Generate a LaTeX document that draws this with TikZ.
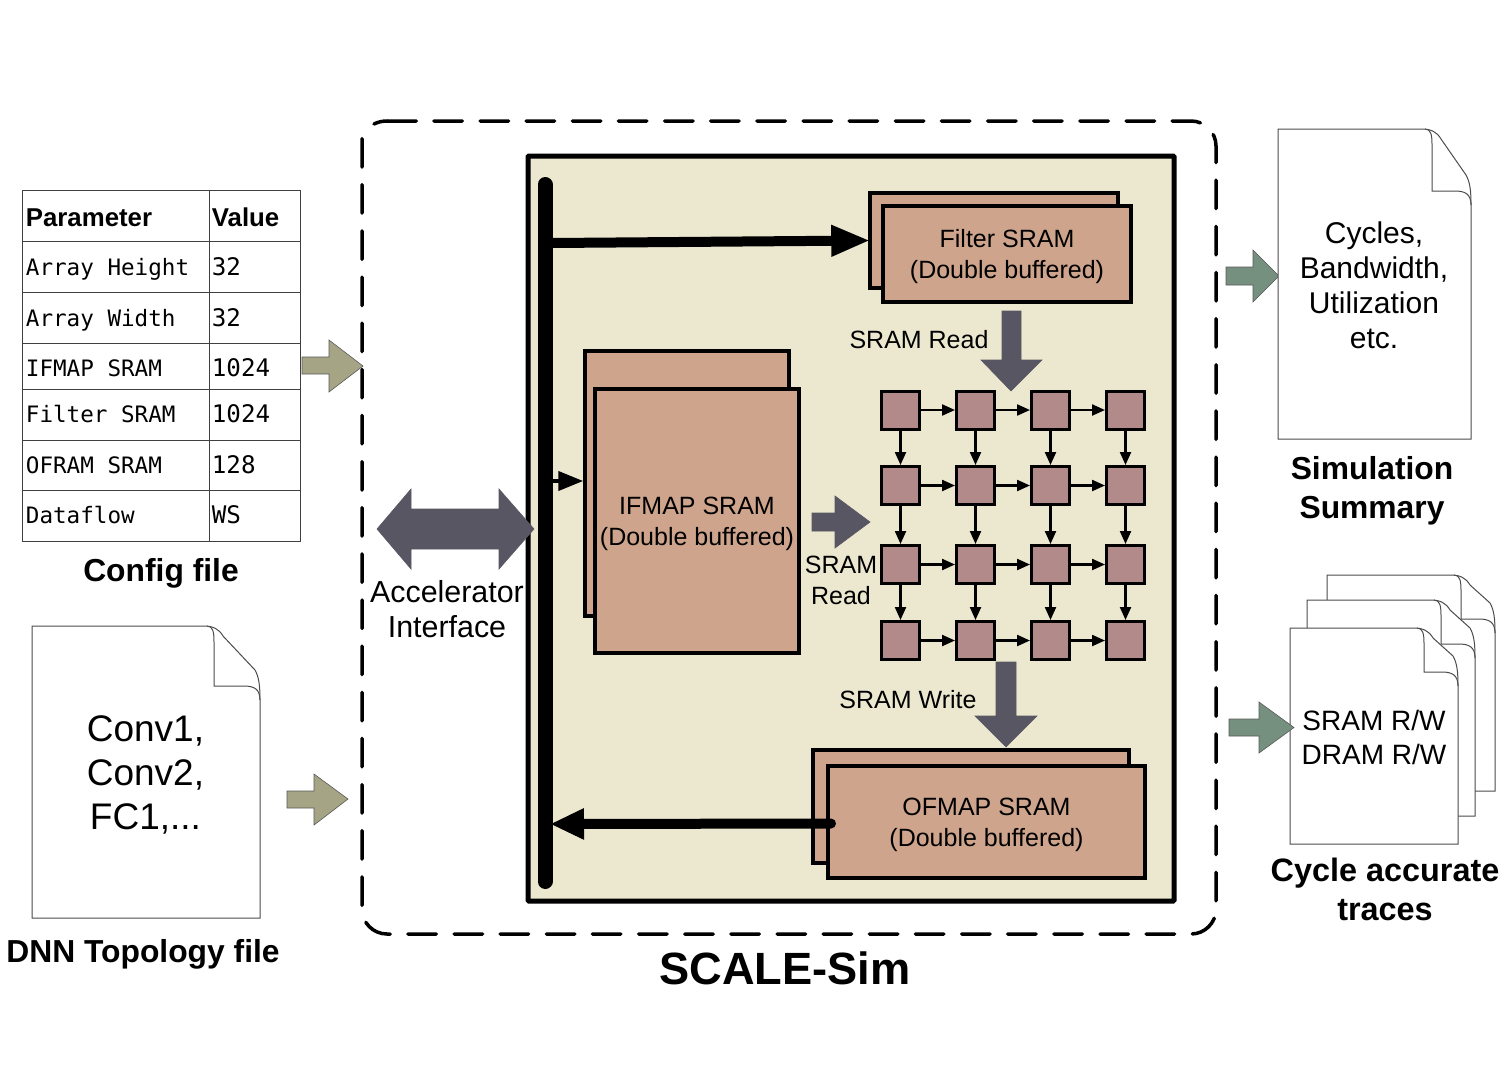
\documentclass[tikz,border=0pt]{standalone}
\usepackage{fontspec}
\setmainfont{Liberation Sans}
\setmonofont{DejaVu Sans Mono}
\usetikzlibrary{arrows.meta}
\definecolor{cBeige}{HTML}{ECE8CF}
\definecolor{cSram}{HTML}{CEA48C}
\definecolor{cPe}{HTML}{B28A8A}
\definecolor{cDark}{HTML}{585663}
\definecolor{cOlive}{HTML}{A5A485}
\definecolor{cGreen}{HTML}{76907F}
\tikzset{
  srambox/.style={draw=black,line width=1.75pt,fill=cSram,inner sep=0pt},
  penode/.style={draw=black,line width=1.5pt,fill=cPe,inner sep=0pt,minimum size=19pt},
  pelink/.style={line width=1.1pt,-{Triangle[length=6.5pt,width=5.5pt]}},
  buslink/.style={line width=5pt,line cap=round,shorten >=-1pt},
  blockdark/.style={draw=cDark,line width=0.3pt,fill=cDark},
  blockolive/.style={draw=black!65,line width=0.3pt,fill=cOlive},
  blockgreen/.style={draw=black!65,line width=0.3pt,fill=cGreen},
  docpage/.style={draw=black!70,line width=0.5pt,fill=white},
  tabline/.style={draw=black!75,line width=0.4pt},
  tabhead/.style={anchor=base west,inner sep=0pt,font=\fontsize{12.9}{15}\selectfont\bfseries},
  tabtext/.style={anchor=base west,inner sep=0pt,font=\fontsize{11.3}{14}\selectfont\ttfamily},
  tabvalue/.style={tabtext,font=\fontsize{12.1}{14}\selectfont\ttfamily},
  smalllabel/.style={inner sep=0pt,align=center,font=\fontsize{12.5}{15.5}\selectfont},
  midlabel/.style={inner sep=0pt,align=center,font=\fontsize{15.2}{17.5}\selectfont},
  boldlabel/.style={inner sep=0pt,align=center,font=\fontsize{15.9}{19.5}\selectfont\bfseries},
}
% left, top, right, bottom, fold width, fold height
\newcommand{\pagesheet}[6]{
  \draw[docpage] (#1,#2) -- ({#3-#5-10},#2)
    .. controls ({#3-#5-1},#2) and ({#3-#5+5},{#2+3}) .. ({#3-#5+9},{#2+10})
    -- ({#3-5},{#2+#6-16}) .. controls ({#3-1},{#2+#6-9}) and (#3,{#2+#6}) .. (#3,{#2+#6+14})
    -- (#3,#4) -- (#1,#4) -- cycle;
  \draw[docpage,fill=none] ({#3-#5-7},#2)
    .. controls ({#3-#5-1},#2) and ({#3-#5},{#2+6}) .. ({#3-#5},{#2+16})
    -- ({#3-#5},{#2+#6}) -- ({#3-16},{#2+#6})
    .. controls ({#3-6},{#2+#6}) and (#3,{#2+#6+3}) .. (#3,{#2+#6+14});
}

\begin{document}
\begin{tikzpicture}[x=0.5pt,y=-0.5pt]
\useasboundingbox (0,0) rectangle (1508,1066);

% config table
\draw[tabline] (22.5,190) rectangle (300,541);
\foreach \y in {241,292,343,389,440,490}
  \draw[tabline] (22.5,\y) -- (300,\y);
\draw[tabline] (209,190) -- (209,541);
\node[tabhead] (parhead) at (25.5,226) {Parameter};
\node[tabhead] (valhead) at (211.5,226) {Value};
\foreach \y/\p/\v [count=\r] in {275/Array Height/32,326/Array Width/32,376/IFMAP SRAM/1024,
    422/Filter SRAM/1024,473/OFRAM SRAM/128,523/Dataflow/WS} {
  \node[tabtext] (par\r) at (25.5,\y) {\p};
  \node[tabvalue] (val\r) at (211.5,\y) {\v};
}
\node[boldlabel] (configlabel) at (161,573) {Config file};

% topology file
\pagesheet{32}{626}{260}{918}{46}{60}
\node[inner sep=0pt,align=center,font=\fontsize{18.5}{22}\selectfont] (topotext) at (145.5,775)
  {Conv1,\\Conv2,\\FC1,...};
\node[boldlabel] (topolabel) at (143,954) {DNN Topology file};

% simulator boundary
\draw[line width=1.75pt,line cap=round] (374,124) .. controls (378,122) and (382,121) .. (387.75,121);
\draw[line width=1.75pt,line cap=round,dash pattern=on 14.25pt off 8.82pt,rounded corners=12.5pt]
  (387.75,121) -- (1216,121) -- (1216,934) -- (362,934) -- (362,138.5);
\node[inner sep=0pt,font=\fontsize{22.6}{26}\selectfont\bfseries] (simlabel) at (785,968) {SCALE-Sim};

% accelerator
\draw[line width=2.5pt,fill=cBeige,rounded corners=0.5pt] (528,156) rectangle (1174,901);
\draw[line width=7.5pt,line cap=round] (545,184.5) -- (545,881.5);
\coordinate (busfilter) at (552,243);
\coordinate (busifmap) at (552,481);
\coordinate (busofmap) at (552,824);
\coordinate (ofmapout) at (831,823.5);

% sram blocks
\node[srambox,minimum width=124pt,minimum height=47.5pt] (filterback) at (994,240.5) {};
\node[srambox,minimum width=124pt,minimum height=48pt] (filterfront) at (1007,254) {};
\node[smalllabel] (filtertext) at (1007,257) {Filter SRAM\\(Double buffered)};
\node[srambox,minimum width=102pt,minimum height=132.5pt] (ifmapback) at (687,483.5) {};
\node[srambox,minimum width=102pt,minimum height=132pt] (ifmapfront) at (697,521) {};
\node[smalllabel] (ifmaptext) at (697,524) {IFMAP SRAM\\(Double buffered)};
\node[srambox,minimum width=158pt,minimum height=56.5pt] (ofmapback) at (971,806.5) {};
\node[srambox,minimum width=158.5pt,minimum height=56pt] (ofmapfront) at (986.5,822) {};
\node[smalllabel] (ofmaptext) at (986.5,825) {OFMAP SRAM\\(Double buffered)};

% bus links
\draw[buslink,-{Triangle[length=19.5pt,width=14.5pt]}] (busfilter) -- (filterback.west);
\draw[line width=2pt,-{Triangle[length=12.5pt,width=9.5pt]}] (busifmap) -- (busifmap -| ifmapback.west);
\draw[buslink,-{Triangle[length=17pt,width=14.5pt]}] (ofmapout) -- (busofmap);

% processing elements
\foreach \x [count=\c] in {900.5,975.5,1050.5,1125.5}
  \foreach \y [count=\r] in {410,485.5,564.5,640.5}
    \node[penode] (pe\r\c) at (\x,\y) {};
\foreach \r in {1,...,4}
  \foreach \c/\d in {1/2,2/3,3/4} {
    \draw[pelink] (pe\r\c) -- (pe\r\d);
    \draw[pelink] (pe\c\r) -- (pe\d\r);
  }

% block arrows
\draw[blockdark] (1002,311) -- (1021,311) -- (1021,360) -- (1042,360) -- (1011,391)
  -- (981,360) -- (1002,360) -- cycle;
\draw[blockdark] (812,513) -- (835,513) -- (835,496) -- (870,522) -- (835,548)
  -- (835,531) -- (812,531) -- cycle;
\draw[blockdark] (996,662) -- (1016,662) -- (1016,716) -- (1037,716) -- (1006,747)
  -- (975,716) -- (996,716) -- cycle;
\draw[blockdark] (377,529) -- (411,489) -- (411,509) -- (499,509) -- (499,489) -- (534,529)
  -- (499,569) -- (499,549) -- (411,549) -- (411,569) -- cycle;
\draw[blockolive] (302,357) -- (329,357) -- (329,340) -- (363,366) -- (329,392)
  -- (329,374) -- (302,374) -- cycle;
\draw[blockolive] (287,791) -- (314,791) -- (314,774) -- (348,799) -- (314,825)
  -- (314,808) -- (287,808) -- cycle;
\draw[blockgreen] (1226,267) -- (1253,267) -- (1253,250) -- (1279,276) -- (1253,302)
  -- (1253,285) -- (1226,285) -- cycle;

% labels
\node[smalllabel] (readtop) at (919,340) {SRAM Read};
\node[smalllabel] (readleft) at (841,580.5) {SRAM\\Read};
\node[smalllabel] (writelabel) at (908,700) {SRAM Write};
\node[midlabel] (ifacelabel) at (447,609) {Accelerator\\Interface};

% simulation summary
\pagesheet{1278}{129}{1471}{439}{39}{62}
\node[midlabel,font=\fontsize{15}{17.5}\selectfont] (summarytext) at (1374,285.5) {Cycles,\\Bandwidth,\\Utilization\\etc.};
\node[boldlabel] (summarylabel) at (1372,491) {Simulation\\Summary};

% traces
\pagesheet{1327}{575}{1495}{791}{34}{44}
\pagesheet{1307}{600}{1475}{816}{34}{44}
\pagesheet{1290}{628}{1458}{844}{34}{44}
\draw[blockgreen] (1229,719) -- (1259,719) -- (1259,702) -- (1294,727.5) -- (1259,753)
  -- (1259,736) -- (1229,736) -- cycle;
\node[inner sep=0pt,align=center,font=\fontsize{14}{17}\selectfont] (tracetext) at (1374,737)
  {SRAM R/W\\DRAM R/W};
\node[boldlabel,font=\fontsize{16.2}{19.5}\selectfont\bfseries] (tracelabel) at (1385,889) {Cycle accurate\\traces};

\end{tikzpicture}
\end{document}
